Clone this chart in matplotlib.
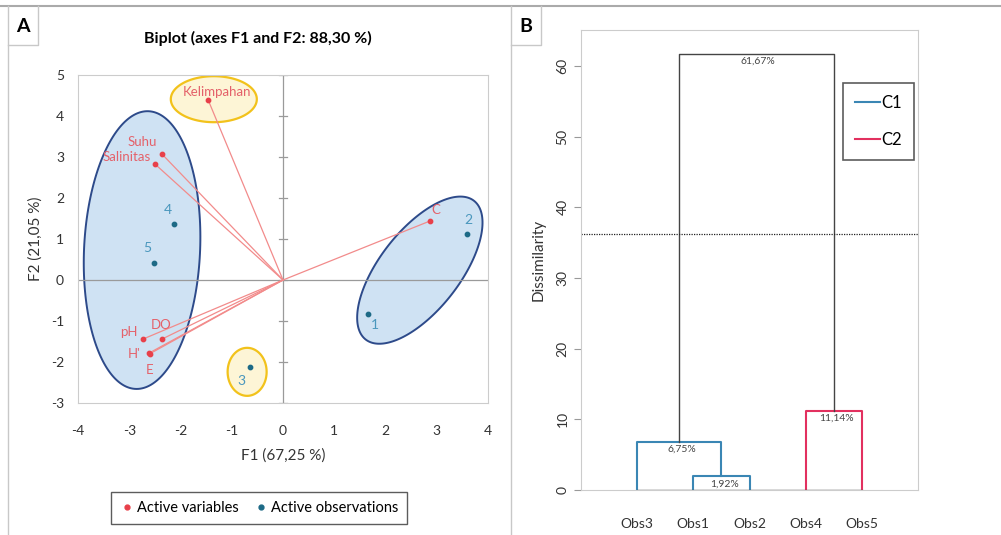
import numpy as np
import matplotlib
matplotlib.use("Agg")
import matplotlib.pyplot as plt
from matplotlib.lines import Line2D

plt.rcParams['font.family'] = ['Lato', 'DejaVu Sans']
plt.rcParams['axes.unicode_minus'] = False

# panel A: PCA biplot
var_names = ['Kelimpahan', 'Suhu', 'Salinitas', 'C', 'pH', 'DO', "H'", 'E']
var_x = [-1.46, -2.36, -2.50, 2.87, -2.73, -2.36, -2.61, -2.60]
var_y = [4.39, 3.07, 2.83, 1.44, -1.44, -1.44, -1.78, -1.80]
var_offsets = [(6, 6), (-4, 9), (-3, 5), (4, 8), (-4, 5), (-1, 10), (-6, -1), (0, -12)]
var_ha = ['center', 'right', 'right', 'center', 'right', 'center', 'right', 'center']

obs_names = ['1', '2', '3', '4', '5']
obs_x = [1.66, 3.59, -0.64, -2.13, -2.52]
obs_y = [-0.83, 1.12, -2.12, 1.37, 0.41]
obs_offsets = [(5, -8), (1, 10), (-6, -10), (-4, 10), (-5, 11)]

# panel B: dendrogram
leaves = ['Obs3', 'Obs1', 'Obs2', 'Obs4', 'Obs5']
merge_heights = [1.92, 6.75, 11.14, 61.67]
merge_labels = ['1,92%', '6,75%', '11,14%', '61,67%']
cut_level = 36.3

RED = '#e8404a'
RED_LINE = '#f28b8b'
OBS = '#1d6a86'
OBS_TXT = '#4a97bd'
BLUE_FILL = '#cfe2f3'
BLUE_EDGE = '#2d4a8a'
YEL_FILL = '#fdf5d6'
YEL_EDGE = '#f2c21b'
C1 = '#3a86b4'
C2 = '#e2305f'

W, H = 1001, 535
fig = plt.figure(figsize=(W / 100, H / 100), dpi=100)


def fbox(x0, y0, x1, y1):
    return [x0 / W, 1 - y1 / H, (x1 - x0) / W, (y1 - y0) / H]


# frame decorations
fig.add_artist(Line2D([0, 1], [1 - 6 / H, 1 - 6 / H], color='#aaaaaa', lw=1.5))
for xp in (8, 511):
    fig.add_artist(Line2D([xp / W, xp / W], [0, 1 - 6 / H], color='#c8c8c8', lw=1))
    fig.add_artist(Line2D([xp / W, (xp + 30) / W, (xp + 30) / W],
                          [1 - 45 / H, 1 - 45 / H, 1 - 6 / H], color='#c8c8c8', lw=1))
fig.text(23 / W, 1 - 26 / H, 'A', ha='center', va='center', fontsize=14, fontweight='bold')
fig.text(526 / W, 1 - 26 / H, 'B', ha='center', va='center', fontsize=14, fontweight='bold')

# ---------------- panel A ----------------
ax = fig.add_axes(fbox(78, 75, 488, 403))
ax.set_xlim(-4, 4)
ax.set_ylim(-3, 5)
sx = 410 / 8.0
sy = 328 / 8.0


def ellipse(cx, cy, a, b, ang, fc, ec, lw):
    t = np.linspace(0, 2 * np.pi, 200)
    th = np.deg2rad(ang)
    px = a * np.cos(t) * np.cos(th) - b * np.sin(t) * np.sin(th)
    py = a * np.cos(t) * np.sin(th) + b * np.sin(t) * np.cos(th)
    ax.fill(cx + px / sx, cy + py / sy, facecolor=fc, edgecolor=ec, lw=lw, zorder=1)


ellipse(-2.75, 0.73, 139, 58, 87.3, BLUE_FILL, BLUE_EDGE, 1.4)
ellipse(2.67, 0.24, 88, 40, 52, BLUE_FILL, BLUE_EDGE, 1.4)
ellipse(-1.35, 4.41, 43, 23, 0, YEL_FILL, YEL_EDGE, 1.6)
ellipse(-0.70, -2.24, 19.5, 24, 0, YEL_FILL, YEL_EDGE, 1.6)

ax.axhline(0, color='#9a9a9a', lw=0.9, zorder=2)
ax.axvline(0, color='#9a9a9a', lw=0.9, zorder=2)
for yt in range(-3, 6):
    ax.plot([-0.08, 0.08], [yt, yt], color='#9a9a9a', lw=0.9, zorder=2)

for x, y in zip(var_x, var_y):
    ax.plot([0, x], [0, y], color=RED_LINE, lw=0.9, zorder=3)
ax.scatter(var_x, var_y, s=10, color=RED, zorder=4)
for n, x, y, off, ha in zip(var_names, var_x, var_y, var_offsets, var_ha):
    ax.annotate(n, (x, y), xytext=off, textcoords='offset points', ha=ha,
                va='center', color='#e4616a', fontsize=9.5, zorder=5)

ax.scatter(obs_x, obs_y, s=10, color=OBS, zorder=4)
for n, x, y, off in zip(obs_names, obs_x, obs_y, obs_offsets):
    ax.annotate(n, (x, y), xytext=off, textcoords='offset points', ha='center',
                va='center', color=OBS_TXT, fontsize=10, zorder=5)

ax.set_xticks(range(-4, 5))
ax.set_yticks(range(-3, 6))
ax.tick_params(length=0, labelsize=10, colors='#333333')
ax.tick_params(axis='x', pad=16)
ax.tick_params(axis='y', pad=10)
for s in ax.spines.values():
    s.set_color('#cccccc')
ax.set_xlabel('F1 (67,25 %)', fontsize=11, color='#333333', labelpad=8)
ax.set_ylabel('F2 (21,05 %)', fontsize=11, color='#333333', labelpad=6)
fig.text(258 / W, 1 - 38 / H, 'Biplot (axes F1 and F2: 88,30 %)', ha='center',
         va='center', fontsize=11.5, fontweight='bold')

handles = [Line2D([], [], marker='o', ls='', color=RED, markersize=3.5),
           Line2D([], [], marker='o', ls='', color=OBS, markersize=3.5)]
leg = fig.legend(handles, ['Active variables', 'Active observations'], ncol=2,
                 loc='center', bbox_to_anchor=(259 / W, 1 - 508 / H), fontsize=10.5,
                 frameon=True, fancybox=False, handletextpad=0.2, columnspacing=1.0,
                 handlelength=1.0, borderpad=0.6)
leg.get_frame().set_edgecolor('#333333')
leg.get_frame().set_linewidth(1.0)

# ---------------- panel B ----------------
bx = fig.add_axes(fbox(581, 30, 918, 490))
pos = np.arange(1, len(leaves) + 1)
bx.set_xlim(0, 6)
bx.set_ylim(0, 65.1)

# Obs1-Obs2
x12 = (pos[1] + pos[2]) / 2
bx.plot([pos[1], pos[1], pos[2], pos[2]], [0, merge_heights[0], merge_heights[0], 0], color=C1, lw=1.5)
# Obs3-(Obs1,Obs2)
x312 = (pos[0] + x12) / 2
bx.plot([pos[0], pos[0], x12, x12], [0, merge_heights[1], merge_heights[1], merge_heights[0]], color=C1, lw=1.5)
# Obs4-Obs5
x45 = (pos[3] + pos[4]) / 2
bx.plot([pos[3], pos[3], pos[4], pos[4]], [0, merge_heights[2], merge_heights[2], 0], color=C2, lw=1.5)
# top
xtop = (x312 + x45) / 2
bx.plot([x312, x312, x45, x45], [merge_heights[1], merge_heights[3], merge_heights[3], merge_heights[2]],
        color='#444444', lw=1.0)
bx.plot([pos[0], pos[-1]], [0, 0], color='#444444', lw=1.0)

label_x = [x12 + 0.05, x312 + 0.05, x45 + 0.05, xtop + 0.03]
for lx, h, t in zip(label_x, merge_heights, merge_labels):
    bx.text(lx, h - 0.4, t, ha='center', va='top', fontsize=7.5, color='#444444')

bx.axhline(cut_level, color='#222222', lw=0.9, ls=(0, (1, 1)))

bx.set_xticks(pos)
bx.set_xticklabels(leaves)
bx.set_yticks(range(0, 61, 10))
bx.tick_params(axis='x', length=0, pad=20, labelsize=10, colors='#333333')
bx.tick_params(axis='y', length=5, color='#999999', labelsize=10, colors='#333333',
               labelrotation=90, pad=4)
for lab in bx.get_yticklabels():
    lab.set_va('center')
for s in bx.spines.values():
    s.set_color('#cccccc')
bx.set_ylabel('Dissimilarity', fontsize=11, color='#333333', labelpad=8)

lh = [Line2D([], [], color=C1, lw=1.5), Line2D([], [], color=C2, lw=1.5)]
lg2 = bx.legend(lh, ['C1', 'C2'], loc='upper right', bbox_to_anchor=(0.988, 0.885),
                borderaxespad=0, fontsize=12, frameon=True, fancybox=False,
                handlelength=1.5, handletextpad=0.1, labelspacing=1.3, borderpad=0.7)
lg2.get_frame().set_edgecolor('#333333')
lg2.get_frame().set_linewidth(1.2)

fig.savefig('out.png', dpi=100)
